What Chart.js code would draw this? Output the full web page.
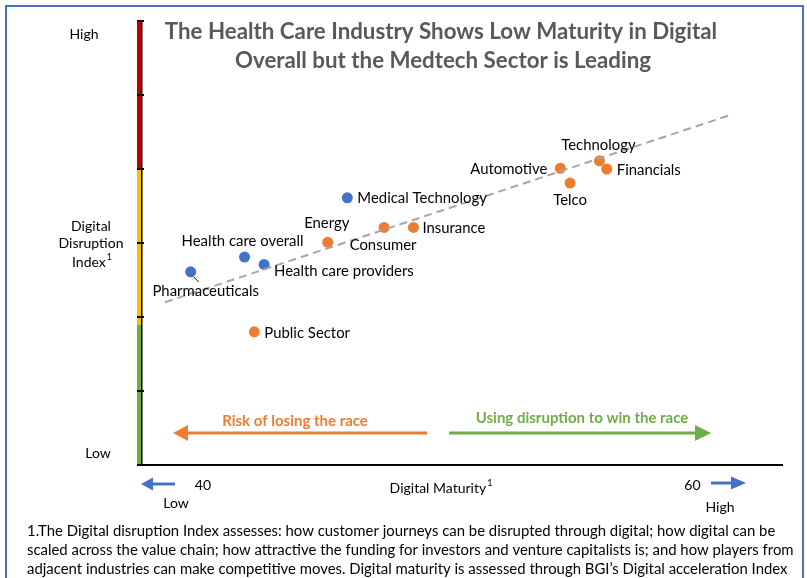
<!DOCTYPE html>
<html>
<head>
<meta charset="utf-8">
<title>Digital disruption vs digital maturity</title>
<script src="https://cdn.jsdelivr.net/npm/chart.js"></script>
<style>
  body { margin: 0; background: #fff; }
  #wrap { width: 807px; height: 578px; position: relative; }
</style>
</head>
<body>
<div id="wrap"><canvas id="chart"></canvas></div>
<script>
    // health care sectors (blue)
    const healthNames = ['Pharmaceuticals', 'Health care overall', 'Health care providers', 'Medical Technology']
    const healthMaturity = [39.5, 41.7, 42.5, 45.9]
    const healthDisruption = [2.61, 2.81, 2.71, 3.61]
    // other industries (orange)
    const otherNames = ['Public Sector', 'Energy', 'Consumer', 'Insurance', 'Automotive', 'Technology', 'Financials', 'Telco']
    const otherMaturity = [42.1, 45.1, 47.4, 48.6, 54.6, 56.2, 56.5, 55.0]
    const otherDisruption = [1.80, 3.01, 3.21, 3.21, 4.01, 4.11, 4.00, 3.81]
    // trend line
    const trendMaturity = [38.45, 61.55]
    const trendDisruption = [2.20, 4.73]
    // axes
    const xTicks = [40, 60]
    const yBands = [[0, 1.9, '#70AD47'], [1.9, 4, '#FFC000'], [4, 6, '#C00000']]

    // label placement: [align, dx, dy] relative to the dot
    const labelPlace = {
        'Pharmaceuticals': ['center', 15, 19],
        'Health care overall': ['center', -2, -16],
        'Health care providers': ['left', 10, 7],
        'Medical Technology': ['left', 10, 0],
        'Public Sector': ['left', 10, 1],
        'Energy': ['center', -1, -19],
        'Consumer': ['center', -1, 18],
        'Insurance': ['left', 9, 1],
        'Automotive': ['right', -13, 1],
        'Technology': ['center', -1, -16],
        'Financials': ['left', 10, 1],
        'Telco': ['center', 0, 17]
    }

    const FONT = 'Lato, "Noto Sans", sans-serif'
    const BLUE = '#4472C4', ORANGE = '#ED7D31', GREEN = '#70AD47'

    function pts(xs, ys) { return xs.map((x, i) => ({x: x, y: ys[i]})) }

    function arrow(ctx, x1, x2, y, head, half, width, color) {
        const dir = x2 > x1 ? 1 : -1
        ctx.strokeStyle = color
        ctx.fillStyle = color
        ctx.lineWidth = width
        ctx.beginPath()
        ctx.moveTo(x1, y)
        ctx.lineTo(x2 - dir * head, y)
        ctx.stroke()
        ctx.beginPath()
        ctx.moveTo(x2, y)
        ctx.lineTo(x2 - dir * head, y - half)
        ctx.lineTo(x2 - dir * head, y + half)
        ctx.closePath()
        ctx.fill()
    }

    function text(ctx, s, x, y, font, color, align) {
        ctx.font = font
        ctx.fillStyle = color
        ctx.textAlign = align || 'center'
        ctx.textBaseline = 'middle'
        ctx.fillText(s, x, y)
    }

    // text with a small superscript "1", centred at x
    function supText(ctx, s, x, y, size) {
        ctx.font = size + 'px ' + FONT
        const w = ctx.measureText(s).width
        ctx.font = '9px ' + FONT
        const ws = ctx.measureText('1').width
        const x0 = x - (w + ws + 1) / 2
        text(ctx, s, x0, y, size + 'px ' + FONT, '#000', 'left')
        text(ctx, '1', x0 + w + 1, y - 5, '9px ' + FONT, '#000', 'left')
    }

    const decor = {
        id: 'decor',
        beforeDatasetsDraw(chart) {
            const ctx = chart.ctx
            const ys = chart.scales.y
            const left = chart.chartArea.left
            ctx.save()
            // coloured y axis bar
            for (const [a, b, c] of yBands) {
                ctx.fillStyle = c
                ctx.fillRect(left - 4, ys.getPixelForValue(b), 4, ys.getPixelForValue(a) - ys.getPixelForValue(b))
            }
            ctx.fillStyle = '#000'
            ctx.fillRect(left, chart.chartArea.top, 1.5, chart.chartArea.bottom - chart.chartArea.top)
            for (let v = 1; v <= 6; v++) {
                ctx.fillRect(left - 4, Math.round(ys.getPixelForValue(v)) - 1, 7, 2)
            }
            // x axis line
            ctx.fillRect(left - 4, chart.chartArea.bottom - 1, chart.chartArea.right - left + 4, 2)
            ctx.restore()
        },
        afterDraw(chart) {
            const ctx = chart.ctx
            const xs = chart.scales.x, ys = chart.scales.y
            ctx.save()
            // page frame
            ctx.strokeStyle = BLUE
            ctx.lineWidth = 2
            ctx.strokeRect(6, 6, 797, 590)

            // title
            const tf = 'bold 22.3px ' + FONT
            text(ctx, 'The Health Care Industry Shows Low Maturity in Digital', 441, 32, tf, '#595959')
            text(ctx, 'Overall but the Medtech Sector is Leading', 443, 61, tf, '#595959')

            // y axis texts
            const f14 = '14px ' + FONT
            const f15 = '14.9px ' + FONT
            text(ctx, 'High', 84, 34, f14, '#000')
            text(ctx, 'Low', 98, 453, f14, '#000')
            text(ctx, 'Digital', 91, 226, f14, '#000')
            text(ctx, 'Disruption', 91, 243, f14, '#000')
            supText(ctx, 'Index', 92, 262, 14)

            // x axis texts
            for (const t of xTicks) text(ctx, String(t), xs.getPixelForValue(t), 485, f14, '#000')
            supText(ctx, 'Digital Maturity', 441, 488, 14)
            text(ctx, 'Low', 176, 503, f14, '#000')
            text(ctx, 'High', 720, 507, f14, '#000')
            arrow(ctx, 175, 141, 484, 12, 6.5, 3, BLUE)
            arrow(ctx, 711, 746, 483, 15, 6.5, 3, BLUE)

            // race arrows
            arrow(ctx, 427, 173, 433, 15, 8, 3, ORANGE)
            arrow(ctx, 449, 711, 433, 16, 8, 3, GREEN)
            text(ctx, 'Risk of losing the race', 295, 421, 'bold 15px ' + FONT, ORANGE)
            text(ctx, 'Using disruption to win the race', 582, 418, 'bold 15px ' + FONT, GREEN)

            // point labels
            const all = pts(healthMaturity, healthDisruption).map((p, i) => [healthNames[i], p])
                .concat(pts(otherMaturity, otherDisruption).map((p, i) => [otherNames[i], p]))
            for (const [name, p] of all) {
                const px = xs.getPixelForValue(p.x), py = ys.getPixelForValue(p.y)
                const [al, dx, dy] = labelPlace[name]
                text(ctx, name, px + dx, py + dy, f15, '#000', al)
                if (name === 'Pharmaceuticals') {
                    ctx.strokeStyle = '#000'
                    ctx.lineWidth = 1
                    ctx.beginPath()
                    ctx.moveTo(px + 3, py + 5)
                    ctx.lineTo(px + 8, py + 10)
                    ctx.stroke()
                }
            }

            // footnote
            const ff = '14.9px ' + FONT
            text(ctx, '1.The Digital disruption Index assesses: how customer journeys can be disrupted through digital; how digital can be', 27, 531, ff, '#000', 'left')
            text(ctx, 'scaled across the value chain; how attractive the funding for investors and venture capitalists is; and how players from', 27, 550, ff, '#000', 'left')
            text(ctx, 'adjacent industries can make competitive moves. Digital maturity is assessed through BGI\u2019s Digital acceleration Index', 27, 569, ff, '#000', 'left')
            ctx.restore()
        }
    }

    new Chart(document.getElementById('chart'), {
        type: 'scatter',
        data: {
            datasets: [{
                label: 'Health care',
                data: pts(healthMaturity, healthDisruption),
                backgroundColor: BLUE,
                borderWidth: 0,
                pointRadius: 5.5,
                order: 2
            }, {
                label: 'Other industries',
                data: pts(otherMaturity, otherDisruption),
                backgroundColor: ORANGE,
                borderWidth: 0,
                pointRadius: 5.5,
                order: 2
            }, {
                type: 'line',
                label: 'Trend',
                data: pts(trendMaturity, trendDisruption),
                borderColor: '#A6A6A6',
                borderWidth: 2,
                borderDash: [8, 5],
                pointRadius: 0,
                fill: false,
                order: 1
            }]
        },
        options: {
            responsive: true,
            maintainAspectRatio: false,
            animation: false,
            layout: {padding: {left: 141, top: 21, right: 24, bottom: 113}},
            plugins: {legend: {display: false}, tooltip: {enabled: false}, title: {display: false}},
            scales: {
                x: {type: 'linear', min: 37.47, max: 63.7, display: false},
                y: {type: 'linear', min: 0, max: 6, display: false}
            }
        },
        plugins: [decor]
    });
</script>
</body>
</html>
